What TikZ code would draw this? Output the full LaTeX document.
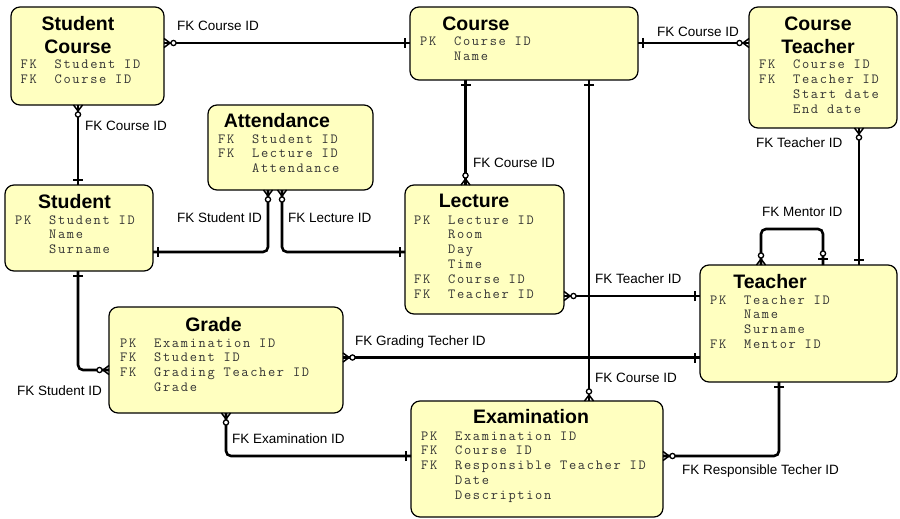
\documentclass[tikz,border=0pt]{standalone}
\usepackage{fontspec}
\setmainfont{Liberation Sans}
\newfontfamily\monof{Latin Modern Mono}[LetterSpace=12]
\definecolor{entfill}{RGB}{255,255,192}
\newcommand{\rk}[2]{\makebox[34pt][l]{#1}#2}
\tikzset{
  entity/.style={draw=black, line width=1.2pt, fill=entfill, rounded corners=9pt, rectangle, inner sep=0pt, outer sep=0pt},
  ttl/.style={font=\fontsize{19.5}{22.3}\selectfont\bfseries, anchor=base, inner sep=0pt},
  rows/.style={font=\monof\fontsize{14}{14.8}\selectfont, anchor=base west, inner sep=0pt, text=black!80},
  lbl/.style={font=\fontsize{13.5}{16}\selectfont, anchor=base west, inner sep=0pt},
  conn/.style={line width=2.6pt, rounded corners=5pt},
  zmany/.pic={\draw[line width=1.5pt] (0,-4.5) -- (6,0) -- (0,4.5);
              \draw[line width=1.3pt, fill=white] (9.5,0) circle[radius=2.6pt];},
  onebar/.pic={\draw[line width=1.8pt] (5,-5) -- (5,5);},
  zeroone/.pic={\draw[line width=1.8pt] (6,-5) -- (6,5);
                \draw[line width=1.3pt, fill=white] (11.5,0) circle[radius=2.6pt];}
}
\begin{document}
\begin{tikzpicture}[x=1pt, y=-1pt]
\useasboundingbox (0,0) rectangle (900,519);
\fill[white] (0,0) rectangle (900,519);

% entities
\node[entity, minimum width=153pt, minimum height=98pt] (sc) at (87.5,56) {};
\node[entity, minimum width=228pt, minimum height=73pt] (course) at (524,43.5) {};
\node[entity, minimum width=148pt, minimum height=121pt] (ct) at (823,67.5) {};
\node[entity, minimum width=165pt, minimum height=85pt] (att) at (290.5,147.5) {};
\node[entity, minimum width=148pt, minimum height=86pt] (stu) at (79,228) {};
\node[entity, minimum width=159pt, minimum height=129pt] (lec) at (484.5,249.5) {};
\node[entity, minimum width=197pt, minimum height=117pt] (tea) at (798.5,323.5) {};
\node[entity, minimum width=234pt, minimum height=106pt] (gra) at (226,360) {};
\node[entity, minimum width=252pt, minimum height=116pt] (exa) at (537,459) {};

% titles
\node[ttl] (t-sc) at (78,31) {\begin{tabular}[t]{@{}c@{}}Student\\Course\end{tabular}};
\node[ttl] (t-course) at (476,31) {Course};
\node[ttl] (t-ct) at (818,31) {\begin{tabular}[t]{@{}c@{}}Course\\Teacher\end{tabular}};
\node[ttl] (t-att) at (277,127) {Attendance};
\node[ttl] (t-stu) at (74.5,208) {Student};
\node[ttl] (t-lec) at (474,207) {Lecture};
\node[ttl] (t-tea) at (770,288) {Teacher};
\node[ttl] (t-gra) at (213.5,331) {Grade};
\node[ttl] (t-exa) at (531,423) {Examination};

% attribute rows
\node[rows] (r-sc) at (20.5,69) {\begin{tabular}[t]{@{}l@{}}\rk{FK}{Student ID}\\\rk{FK}{Course ID}\end{tabular}};
\node[rows] (r-course) at (420,46) {\begin{tabular}[t]{@{}l@{}}\rk{PK}{Course ID}\\\rk{}{Name}\end{tabular}};
\node[rows] (r-ct) at (759,69) {\begin{tabular}[t]{@{}l@{}}\rk{FK}{Course ID}\\\rk{FK}{Teacher ID}\\\rk{}{Start date}\\\rk{}{End date}\end{tabular}};
\node[rows] (r-att) at (218,143) {\begin{tabular}[t]{@{}l@{}}\rk{FK}{Student ID}\\\rk{FK}{Lecture ID}\\\rk{}{Attendance}\end{tabular}};
\node[rows] (r-stu) at (15,224) {\begin{tabular}[t]{@{}l@{}}\rk{PK}{Student ID}\\\rk{}{Name}\\\rk{}{Surname}\end{tabular}};
\node[rows] (r-lec) at (414,224) {\begin{tabular}[t]{@{}l@{}}\rk{PK}{Lecture ID}\\\rk{}{Room}\\\rk{}{Day}\\\rk{}{Time}\\\rk{FK}{Course ID}\\\rk{FK}{Teacher ID}\end{tabular}};
\node[rows] (r-tea) at (710,304) {\begin{tabular}[t]{@{}l@{}}\rk{PK}{Teacher ID}\\\rk{}{Name}\\\rk{}{Surname}\\\rk{FK}{Mentor ID}\end{tabular}};
\node[rows] (r-gra) at (120,347) {\begin{tabular}[t]{@{}l@{}}\rk{PK}{Examination ID}\\\rk{FK}{Student ID}\\\rk{FK}{Grading Teacher ID}\\\rk{}{Grade}\end{tabular}};
\node[rows] (r-exa) at (421,440) {\begin{tabular}[t]{@{}l@{}}\rk{PK}{Examination ID}\\\rk{FK}{Course ID}\\\rk{FK}{Responsible Teacher ID}\\\rk{}{Date}\\\rk{}{Description}\end{tabular}};

% connectors
\draw[conn] (sc.east |- 0,43) -- (course.west |- 0,43);
\draw[conn] (course.east |- 0,43) -- (ct.west |- 0,43);
\draw[conn] (78,0 |- sc.south) -- (78,0 |- stu.north);
\draw[conn] (465.5,0 |- course.south) -- (465.5,0 |- lec.north);
\draw[conn] (589,0 |- course.south) -- (589,0 |- exa.north);
\draw[conn] (859,0 |- ct.south) -- (859,0 |- tea.north);
\draw[conn] (stu.east |- 0,252) -| (268,0 |- att.south);
\draw[conn] (lec.west |- 0,252) -| (282,0 |- att.south);
\draw[conn] (lec.east |- 0,296) -- (tea.west |- 0,296);
\draw[conn] (gra.east |- 0,357.5) -- (tea.west |- 0,357.5);
\draw[conn] (78,0 |- stu.south) |- (gra.west |- 0,370);
\draw[conn] (226,0 |- gra.south) |- (exa.west |- 0,456);
\draw[conn] (exa.east |- 0,456) -| (779,0 |- tea.south);
\draw[conn] (761,0 |- tea.north) -- (761,229) -- (823,229) -- (823,0 |- tea.north);

% end markers
\pic[rotate=0] at (sc.east |- 0,43) {zmany};
\pic[rotate=180] at (course.west |- 0,43) {onebar};
\pic[rotate=0] at (course.east |- 0,43) {onebar};
\pic[rotate=180] at (ct.west |- 0,43) {zmany};
\pic[rotate=-90] at (78,0 |- sc.south) {zmany};
\pic[rotate=90] at (78,0 |- stu.north) {onebar};
\pic[rotate=-90] at (465.5,0 |- course.south) {onebar};
\pic[rotate=90] at (465.5,0 |- lec.north) {zmany};
\pic[rotate=-90] at (589,0 |- course.south) {onebar};
\pic[rotate=90] at (589,0 |- exa.north) {zmany};
\pic[rotate=-90] at (859,0 |- ct.south) {zmany};
\pic[rotate=90] at (859,0 |- tea.north) {onebar};
\pic[rotate=0] at (stu.east |- 0,252) {onebar};
\pic[rotate=-90] at (268,0 |- att.south) {zmany};
\pic[rotate=180] at (lec.west |- 0,252) {onebar};
\pic[rotate=-90] at (282,0 |- att.south) {zmany};
\pic[rotate=0] at (lec.east |- 0,296) {zmany};
\pic[rotate=180] at (tea.west |- 0,296) {onebar};
\pic[rotate=0] at (gra.east |- 0,357.5) {zmany};
\pic[rotate=180] at (tea.west |- 0,357.5) {onebar};
\pic[rotate=-90] at (78,0 |- stu.south) {onebar};
\pic[rotate=180] at (gra.west |- 0,370) {zmany};
\pic[rotate=-90] at (226,0 |- gra.south) {zmany};
\pic[rotate=180] at (exa.west |- 0,456) {onebar};
\pic[rotate=0] at (exa.east |- 0,456) {zmany};
\pic[rotate=-90] at (779,0 |- tea.south) {onebar};
\pic[rotate=90] at (761,0 |- tea.north) {zmany};
\pic[rotate=90] at (823,0 |- tea.north) {zeroone};

% connector labels
\node[lbl] (l1) at (177,31) {FK Course ID};
\node[lbl] (l2) at (657,37) {FK Course ID};
\node[lbl] (l3) at (85,130) {FK Course ID};
\node[lbl] (l4) at (473,167) {FK Course ID};
\node[lbl] (l5) at (595,382) {FK Course ID};
\node[lbl] (l6) at (756,147) {FK Teacher ID};
\node[lbl] (l7) at (177,222) {FK Student ID};
\node[lbl] (l8) at (288,222) {FK Lecture ID};
\node[lbl] (l9) at (595,283) {FK Teacher ID};
\node[lbl] (l10) at (355,345) {FK Grading Techer ID};
\node[lbl] (l11) at (17,395) {FK Student ID};
\node[lbl] (l12) at (232,443) {FK Examination ID};
\node[lbl] (l13) at (682,474) {FK Responsible Techer ID};
\node[lbl] (l14) at (762,216) {FK Mentor ID};
\end{tikzpicture}
\end{document}
